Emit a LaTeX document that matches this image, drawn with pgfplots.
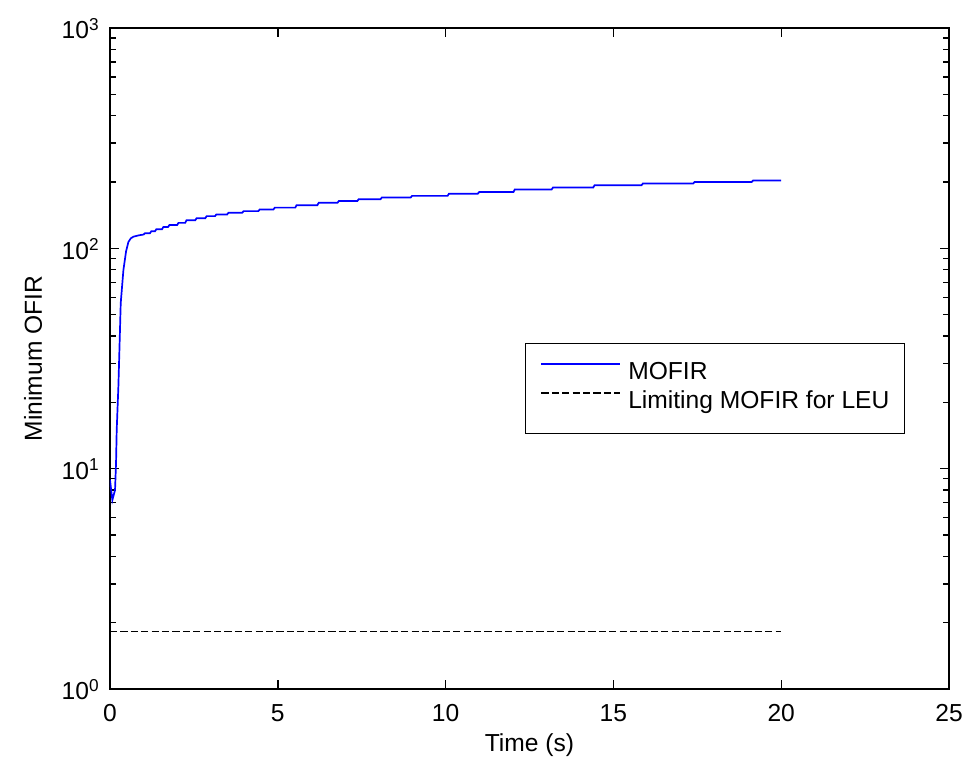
\documentclass[border=0pt]{standalone}
\usepackage{fontspec}
\setmainfont{Liberation Sans}
\usepackage{pgfplots}
\pgfplotsset{compat=1.18}
\begin{document}
\begin{tikzpicture}
\begin{axis}[
  name=ax,
  scale only axis,
  width=419.5pt, height=330.5pt,
  xmin=0, xmax=25, ymin=1, ymax=1000,
  ymode=log,
  axis line style={line width=0.7pt},
  every tick/.style={black, line width=0.7pt},
  major tick length=4.5pt, minor tick length=2.8pt,
  xtick={0,5,10,15,20,25},
  xticklabels={0,5,10,15,20,25},
  ytick={1,10,100,1000},
  yticklabels={10\textsuperscript{0},10\textsuperscript{1},10\textsuperscript{2},10\textsuperscript{3}},
  tick label style={font=\fontsize{12.3}{14.5}\selectfont, inner sep=0pt},
  xticklabel style={anchor=base, yshift=-16.5pt},
  yticklabel style={anchor=base east, xshift=-5pt, yshift=-5.5pt},
  label style={font=\fontsize{12.3}{14.5}\selectfont, inner sep=0pt},
  xlabel={Time (s)},
  ylabel={Minimum OFIR},
  xlabel style={at={(axis description cs:0.5,-0.0947)}, anchor=base},
  ylabel style={at={(axis description cs:-0.0811,0.5)}, anchor=base, rotate=0},
  legend style={at={(axis description cs:0.9476,0.524)}, anchor=north east,
    draw=black, line width=0.65pt, fill=white,
    inner xsep=7.5pt, inner ysep=8pt,
    font=\fontsize{12.3}{14.5}\selectfont,
    nodes={inner sep=0pt, text height=10pt, text depth=4.5pt},
    /tikz/every odd column/.append style={column sep=3.5pt}},
  legend cell align=left,
  legend image code/.code={\draw[#1] (0pt,5pt) -- (39.5pt,5pt);},
]
\addplot[color=blue, line width=0.85pt] coordinates {
(0,8.9) (0.07,7.2) (0.15,8.0) (0.18,10.6) (0.2,15) (0.25,23.6) (0.32,56.5)
(0.4,79.8) (0.48,97) (0.55,107) (0.62,111) (0.7,113) (0.85,114.5)
(1.0,115.5) (1.04,117)
(1.19,117) (1.23,119.5)
(1.34,119.5) (1.38,122)
(1.55,122) (1.59,125)
(1.73,125) (1.77,127.5)
(2.0,127.5) (2.04,130.5)
(2.24,130.5) (2.28,134)
(2.54,134) (2.58,137)
(2.84,137) (2.88,140)
(3.13,140) (3.17,142.5)
(3.49,142.5) (3.53,145)
(3.94,145) (3.98,147.5)
(4.42,147.5) (4.46,150)
(4.87,150) (4.91,153)
(5.52,153) (5.56,157)
(6.18,157) (6.22,161)
(6.78,161) (6.82,164)
(7.37,164) (7.41,167)
(8.06,167) (8.10,170)
(8.96,170) (9.00,173)
(10.06,173) (10.10,177)
(10.96,177) (11.00,180)
(12.02,180) (12.06,185)
(13.16,185) (13.20,189)
(14.40,189) (14.44,193.5)
(15.84,193.5) (15.88,197)
(17.38,197) (17.42,200)
(19.12,200) (19.16,203)
(20,203)
};
\addlegendentry{MOFIR}
\addplot[color=black, line width=0.75pt, dash pattern=on 3.6pt off 1.6pt] coordinates {
(0,1.82) (20,1.82)
};
\addlegendentry{Limiting MOFIR for LEU}
\end{axis}
\pgfresetboundingbox
\useasboundingbox ([shift={(-55pt,-35pt)}]ax.south west) rectangle ([shift={(15.5pt,14pt)}]ax.north east);
\end{tikzpicture}
\end{document}
